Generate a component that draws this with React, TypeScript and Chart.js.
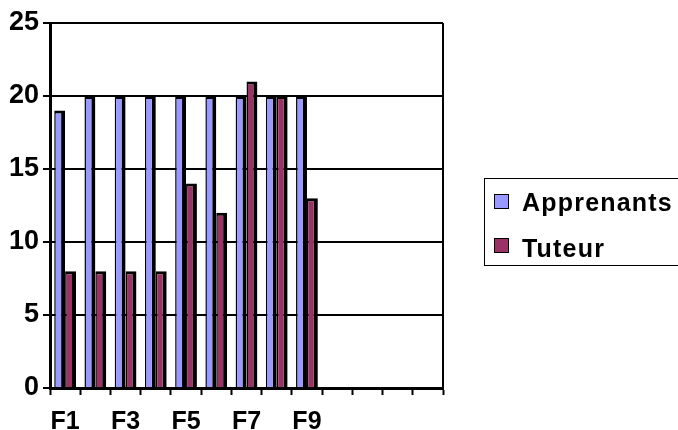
import React, { useEffect, useRef } from "react";
import { Chart, registerables } from "chart.js";

Chart.register(...registerables);

const categories = ["F1", "F2", "F3", "F4", "F5", "F6", "F7", "F8", "F9", "", "", "", ""];
const apprenants = [19, 20, 20, 20, 20, 20, 20, 20, 20, null, null, null, null];
const tuteur = [8, 8, 8, 8, 14, 12, 21, 20, 13, null, null, null, null];
const seriesNames = ["Apprenants", "Tuteur"];
const seriesColors = ["#9999FF", "#993366"];
const yMin = 0;
const yMax = 25;
const yStep = 5;

const FONT = "'Liberation Sans', Arial, sans-serif";

const rightBorder = {
  id: "rightBorder",
  afterDraw(chart: any) {
    const { ctx, chartArea } = chart;
    ctx.save();
    ctx.strokeStyle = "#000";
    ctx.lineWidth = 2;
    ctx.beginPath();
    ctx.moveTo(chartArea.right, chartArea.top);
    ctx.lineTo(chartArea.right, chartArea.bottom);
    ctx.stroke();
    ctx.restore();
  },
};

export default function App() {
  const ref = useRef<HTMLCanvasElement | null>(null);

  useEffect(() => {
    if (!ref.current) return;
    const barBorder = { left: 1.5, right: 4, top: 3, bottom: 0 };
    const chart = new Chart(ref.current, {
      type: "bar",
      data: {
        labels: categories,
        datasets: [
          {
            label: seriesNames[0],
            data: apprenants,
            backgroundColor: seriesColors[0],
            borderColor: "#000",
            borderWidth: barBorder,
            borderSkipped: "bottom",
          },
          {
            label: seriesNames[1],
            data: tuteur,
            backgroundColor: seriesColors[1],
            borderColor: "#000",
            borderWidth: barBorder,
            borderSkipped: "bottom",
          },
        ],
      },
      options: {
        animation: false,
        responsive: false,
        maintainAspectRatio: false,
        layout: { padding: { left: 0, top: 23, right: 235, bottom: 0 } },
        datasets: { bar: { categoryPercentage: 0.72, barPercentage: 1 } },
        plugins: { legend: { display: false }, tooltip: { enabled: false } },
        scales: {
          x: {
            offset: true,
            grid: {
              offset: true,
              drawOnChartArea: false,
              drawTicks: true,
              tickLength: 7,
              tickColor: "#000",
              tickWidth: 2,
              color: "#000",
            },
            border: { display: true, color: "#000", width: 3 },
            ticks: {
              autoSkip: false,
              maxRotation: 0,
              padding: 12,
              color: "#000",
              font: { family: FONT, size: 25, weight: "bold" },
              callback: (_v: any, i: number) => (i % 2 === 0 ? categories[i] : ""),
            },
            afterFit: (s: any) => {
              s.height = 42;
            },
          },
          y: {
            min: yMin,
            max: yMax,
            ticks: {
              stepSize: yStep,
              padding: 4,
              color: "#000",
              font: { family: FONT, size: 27, weight: "bold" },
            },
            grid: {
              color: "#000",
              lineWidth: 2,
              tickLength: 7,
              tickColor: "#000",
              tickWidth: 2,
            },
            border: { display: true, color: "#000", width: 3 },
            afterFit: (s: any) => {
              s.width = 50;
            },
          },
        },
      },
      plugins: [rightBorder],
    } as any);
    return () => chart.destroy();
  }, []);

  const textStyle: React.CSSProperties = {
    position: "absolute",
    left: 522,
    fontFamily: FONT,
    fontWeight: "bold",
    fontSize: 25,
    lineHeight: "25px",
    letterSpacing: "1.2px",
    color: "#000",
    whiteSpace: "nowrap",
  };
  const markerStyle = (c: string, top: number): React.CSSProperties => ({
    position: "absolute",
    left: 494,
    top,
    width: 13,
    height: 13,
    background: c,
    border: "1.5px solid #000",
  });

  return (
    <div
      style={{
        position: "fixed",
        left: 0,
        top: 0,
        width: 678,
        height: 430,
        overflow: "hidden",
        background: "#fff",
      }}
    >
      <canvas ref={ref} width={678} height={430} style={{ position: "absolute", left: 0, top: 0 }} />
      <div
        style={{
          position: "absolute",
          left: 484,
          top: 178,
          width: 220,
          height: 88,
          border: "1.5px solid #000",
          boxSizing: "border-box",
        }}
      />
      <div style={markerStyle(seriesColors[0], 194)} />
      <div style={{ ...textStyle, top: 190 }}>{seriesNames[0]}</div>
      <div style={markerStyle(seriesColors[1], 238)} />
      <div style={{ ...textStyle, top: 236 }}>{seriesNames[1]}</div>
    </div>
  );
}
